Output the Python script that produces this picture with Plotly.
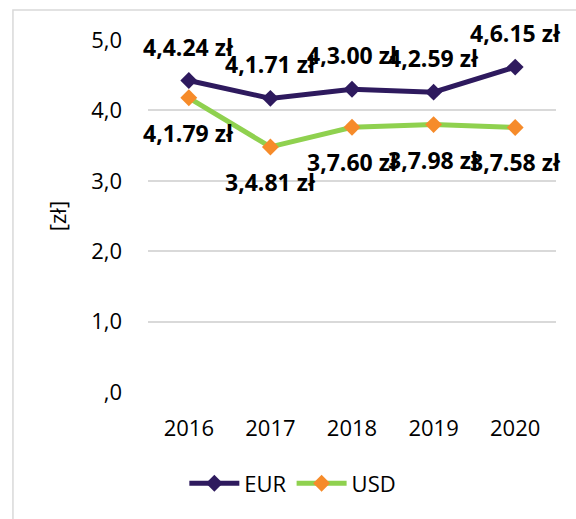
import plotly.graph_objects as go

# Exchange rates (PLN) per year
years = ["2016", "2017", "2018", "2019", "2020"]
eur = [4.424, 4.171, 4.300, 4.259, 4.615]
usd = [4.179, 3.481, 3.760, 3.798, 3.758]
y_ticks = [0, 1, 2, 3, 4, 5]
y_tick_text = [",0", "1,0", "2,0", "3,0", "4,0", "5,0"]

EUR_LINE = "#2e1a5e"
USD_LINE = "#8fd14f"
USD_MARK = "#f68b2a"
FONT = "Open Sans"


def label(v):
    # value rendered as e.g. "4,4.24 zł"
    s = f"{v:.3f}"
    whole, frac = s.split(".")
    return f"{whole},{frac[0]}.{frac[1:]} zł"


fig = go.Figure()
fig.add_trace(go.Scatter(
    x=years, y=eur, name="EUR", mode="lines+markers",
    line=dict(color=EUR_LINE, width=5),
    marker=dict(symbol="diamond", size=13, color=EUR_LINE),
))
fig.add_trace(go.Scatter(
    x=years, y=usd, name="USD", mode="lines+markers",
    line=dict(color=USD_LINE, width=5),
    marker=dict(symbol="diamond", size=13, color=USD_MARK),
))

# value labels: EUR above its points, USD below
annotations = []
for i, v in enumerate(eur):
    annotations.append(dict(xref="x", yref="y", x=i, y=v, text=f"<b>{label(v)}</b>",
                            showarrow=False, yshift=34,
                            font=dict(family=FONT, size=23, color="#000")))
for i, v in enumerate(usd):
    annotations.append(dict(xref="x", yref="y", x=i, y=v, text=f"<b>{label(v)}</b>",
                            showarrow=False, yshift=-35,
                            font=dict(family=FONT, size=23, color="#000")))

fig.update_layout(
    width=576, height=519,
    margin=dict(l=148, r=20, t=40, b=127),
    paper_bgcolor="white", plot_bgcolor="white",
    font=dict(family=FONT, size=21, color="#000"),
    showlegend=True,
    legend=dict(orientation="h", x=0.355, xanchor="center", y=-0.2, yanchor="top",
                font=dict(family=FONT, size=22), itemwidth=50, traceorder="normal"),
    annotations=annotations,
    shapes=[dict(type="rect", xref="paper", yref="paper",
                 x0=-0.331, x1=1.2, y0=-0.6, y1=1.085,
                 line=dict(color="#d9d9d9", width=1.5), layer="below")],
    xaxis=dict(type="category", range=[-0.5, 4.5], showgrid=False, showline=False,
               ticks="", tickfont=dict(size=22), ticklabelstandoff=21),
    yaxis=dict(range=[0, 5], tickvals=y_ticks, ticktext=y_tick_text,
               showgrid=True, gridcolor="#d9d9d9", gridwidth=1.5, zeroline=False,
               showline=False, ticks="", tickfont=dict(size=22), ticklabelstandoff=25,
               title=dict(text="[zł]", font=dict(size=22), standoff=18)),
)

fig.write_html("out.html")
